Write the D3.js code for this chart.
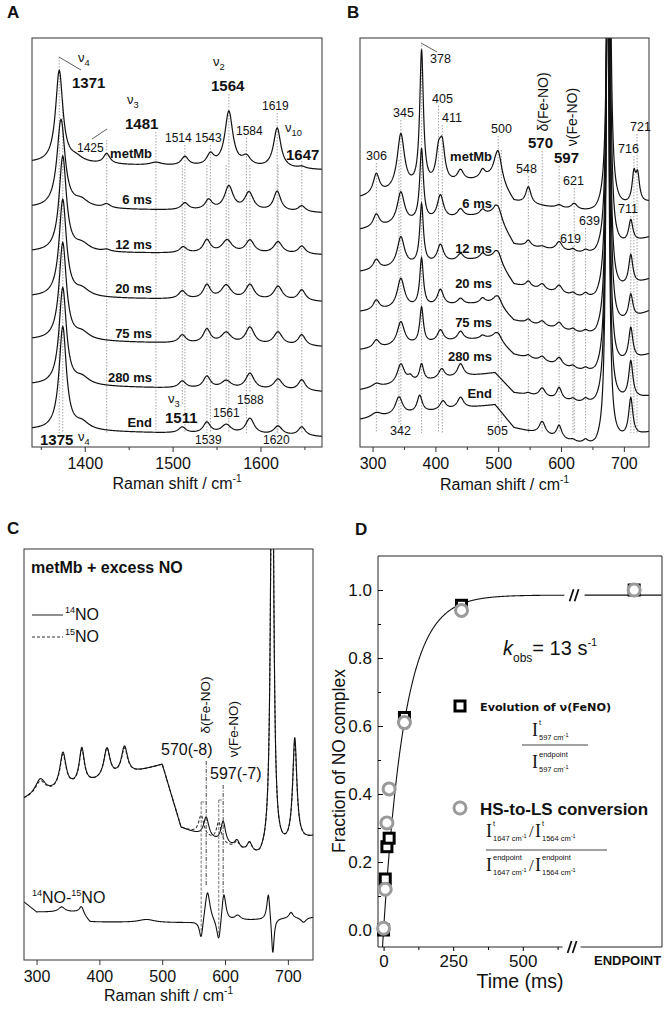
<!DOCTYPE html>
<html><head><meta charset="utf-8">
<script src="https://cdn.jsdelivr.net/npm/d3@7"></script>
<style>body{margin:0;background:#fff}svg{display:block;font-family:"Liberation Sans",Arial,Helvetica,sans-serif}</style>
</head><body><svg id="c" width="669" height="1012"></svg>
<script>
// ================= DATA =================
const traceNames = ["metMb", "6 ms", "12 ms", "20 ms", "75 ms", "280 ms", "End"];

// Panel A (1340-1670 cm-1): baseline intensity at left/right edge, bands [centre, height, half-width]
const aRange = [1340, 1670];
const aBaseLeft  = [284, 239, 195, 150, 107, 62, 17];
const aBaseRight = [277, 234, 192, 145, 100, 55, 10];
const aBands = [
  [[1371,92,5],[1390,5,10],[1425,10,4.5],[1481,3,8],[1514,9,5],[1543,11,5],[1564,55,5.5],[1584,9,6],[1619,40,5],[1647,2,5]],
  [[1373,88,5.5],[1396,7,10],[1425,4,5],[1514,7,5],[1541,10,5],[1564,24,6],[1587,18,6],[1619,20,5],[1647,6,5]],
  [[1375,95,5],[1397,7,10],[1425,2,5],[1512,6,5],[1539,13,5],[1562,13,7],[1588,13,6],[1620,12,6],[1647,8,5]],
  [[1375,97,5],[1397,7,10],[1511,8,5],[1539,14,5],[1561,14,7],[1588,15,6],[1620,14,6],[1647,11,5]],
  [[1375,97,5],[1397,7,10],[1511,8,5],[1539,14,5],[1561,11,7],[1588,17,6],[1620,13,6],[1647,11,5]],
  [[1375,97,5],[1397,7,10],[1511,7,5],[1539,12,5],[1561,8,7],[1588,16,6],[1620,11,6],[1647,11,5]],
  [[1375,103,5],[1397,7,10],[1511,6,5],[1539,11,5],[1561,9,7],[1588,16,6],[1620,9,6],[1647,9,5]]
];
const aTicks = [1400, 1500, 1600];
const aMinor = [1350, 1450, 1550, 1650];
const aMarksTop = [1371, 1425, 1481, 1514, 1543, 1564, 1584, 1619, 1647];
const aMarksEnd = [1375, 1511, 1539, 1561, 1588, 1620];

// Panel B (280-740 cm-1): background anchors and bands
const bRange = [280, 740];
const bBgX = [280, 495, 525, 655, 740];
const bBgY = [
  [249, 269, 244, 233, 244],
  [217, 233, 202, 190, 209],
  [175, 189, 162, 145, 167],
  [135, 144, 126, 109, 135],
  [97, 109, 92, 71, 92],
  [57, 74, 54, 40, 50],
  [27, 42, 19, -2, 14]
];
const bBands = [
  [[306,20,6],[345,56,7],[378,135,3.5],[405,28,5],[411,34,5],[440,11,6],[475,8,5],[500,30,7],[548,17,5],[597,3,6],[621,6,6],[676,500,2.8],[716,28,3.5],[722,26,3.5]],
  [[306,13,6],[345,32,7],[378,72,3.5],[408,24,6],[440,8,6],[475,5,5],[500,12,7],[548,6,5],[570,2,6],[597,9,6],[619,3,5],[639,3,5],[675.5,500,2.8],[711,22,4]],
  [[306,10,6],[345,30,7],[378,60,3.5],[408,18,6],[440,7,6],[475,5,5],[500,10,7],[548,6,5],[570,6,6],[597,8,6],[619,3,5],[639,4,5],[675,500,2.8],[711,30,4]],
  [[306,10,6],[345,30,7],[378,48,3.5],[408,16,6],[440,6,6],[475,5,5],[500,9,7],[548,4,5],[570,5,6],[597,7,6],[619,3,5],[639,3,5],[675,500,2.8],[711,24,4]],
  [[306,8,6],[345,24,7],[378,36,3.5],[408,12,6],[440,9,6],[475,3,5],[500,7,7],[548,3,5],[570,5,6],[597,8,6],[619,3,5],[639,3,5],[674.5,500,2.8],[711,32,4]],
  [[306,4,8],[345,20,7],[360,5,5],[378,17,4],[410,10,6],[440,13,6],[548,2,5],[570,9,6],[597,12,5],[619,3,5],[639,4,5],[674,500,2.8],[711,37,4]],
  [[306,5,10],[342,18,7],[375,17,5],[412,9,6],[440,11,6],[570,13,6],[597,13,5],[619,2,5],[639,4,5],[674,500,2.8],[711,38,4]]
];
const bTicks = [300, 400, 500, 600, 700];
const bMinor = [350, 450, 550, 650];
const bMarksTop = [306, 345, 378, 405, 411, 500, 548, 570, 597, 621, 716, 721];
const bMarksLow = [342, 505, 619, 639, 711];

// Panel C: metMb + excess NO, 14NO / 15NO and difference
const cRange = [280, 740];
const cBgX = [280, 445, 500, 530, 655, 740];
const cBgY = [160, 185, 195, 132, 100, 122];
const c14Bands = [[306,16,10],[342,36,6],[372,36,5],[412,30,6],[440,28,6],[570,20,5],[597,22,4.5],[619,8,5],[639,10,5],[675,500,2.8],[711,105,4]];
const c15Bands = [[306,14,10],[342,34,6],[372,34,5],[412,30,6],[440,26,6],[562,20,5],[590,20,4.5],[619,7,5],[639,10,5],[675,500,2.8],[711,100,4]];
const cDiffBgX = [280, 300, 370, 385, 555, 740];
const cDiffBgY = [58, 48, 48, 38, 37, 43];
const cDiffBands = [[340,5,6],[372,6,4],[475,3,15],[562,-20,3.5],[572,32,5],[590,-24,4],[598,30,4],[620,5,6],[669,28,3],[676,-38,2.5],[705,6,4],[725,-5,5]];
const cTicks = [300, 400, 500, 600, 700];

// Panel D: kinetics
const dTimes = [0, 6, 12, 20, 75, 280];
const dFeNO = [0.0, 0.15, 0.245, 0.27, 0.625, 0.955];
const dHSLS = [0.005, 0.12, 0.315, 0.415, 0.61, 0.94];
const dFeNOEnd = 1.0;
const dHSLSEnd = 1.0;
const kObs = 13;          // s^-1
const fitAmp = 0.985;
const dYTicks = [0.0, 0.2, 0.4, 0.6, 0.8, 1.0];
const dYMinor = [0.1, 0.3, 0.5, 0.7, 0.9];
const dXTicks = [0, 250, 500];
const dXMinor = [125, 375, 625];

// ================= LAYOUT =================
const L = {
  A: {l: 32, r: 322, t: 38, b: 447},
  B: {l: 360, r: 649, t: 38, b: 447},
  C: {l: 24, r: 313, t: 549, b: 960},
  D: {l: 378, r: 662, t: 556, b: 947}
};
const INK = "#111";
const SANS = '"Liberation Sans",Arial,Helvetica,sans-serif';
const svg = d3.select("#c");
const defs = svg.append("defs");

function bandSum(bands, v) { return d3.sum(bands, b => b[1] / (1 + ((v - b[0]) / b[2]) ** 2)); }
function spectrum(bands, bgX, bgY, range, step) {
  const bg = d3.scaleLinear().domain(bgX).range(bgY);
  return d3.range(range[0], range[1] + step / 2, step).map(v => [v, bg(v) + bandSum(bands, v)]);
}
function txt(g, x, y, s, o = {}) {
  const t = g.append("text").attr("x", x).attr("y", y).text(s)
    .attr("font-size", o.size || 12).attr("font-weight", o.bold ? "bold" : "normal")
    .attr("text-anchor", o.anchor || "start").attr("fill", o.fill || INK)
    .style("font-family", o.family || SANS);
  if (o.style) t.attr("font-style", o.style);
  return t;
}
function nu(g, x, y, sub, size = 13) {
  const t = g.append("text").attr("x", x).attr("y", y).attr("font-size", size).attr("fill", INK);
  t.append("tspan").text("\u03BD");
  t.append("tspan").attr("dy", 4).attr("font-size", size * 0.72).text(sub);
}
function rot(g, x, y, s, size) {
  g.append("text").attr("transform", `translate(${x},${y}) rotate(-90)`).attr("text-anchor", "middle")
    .attr("font-size", size).attr("fill", INK).text(s);
}
function clip(id, box) {
  defs.append("clipPath").attr("id", id).append("rect")
    .attr("x", box.l).attr("y", box.t).attr("width", box.r - box.l).attr("height", box.b - box.t);
}
function frame(g, box) {
  g.append("rect").attr("x", box.l).attr("y", box.t).attr("width", box.r - box.l).attr("height", box.b - box.t)
    .attr("fill", "none").attr("stroke", "#333").attr("stroke-width", 1);
}
function bottomAxis(g, x, y0, majors, minors, size, pad) {
  g.append("g").attr("transform", `translate(0,${y0})`)
    .call(d3.axisBottom(x).tickValues(majors).tickSize(5).tickPadding(pad).tickFormat(d3.format("d")))
    .call(a => a.select(".domain").remove())
    .call(a => a.selectAll("line").attr("stroke", "#333"))
    .call(a => a.selectAll("text").attr("font-size", size).style("font-family", SANS).attr("fill", INK));
  if (minors) g.append("g").attr("transform", `translate(0,${y0})`)
    .call(d3.axisBottom(x).tickValues(minors).tickSize(3).tickFormat(""))
    .call(a => a.select(".domain").remove())
    .call(a => a.selectAll("line").attr("stroke", "#333"));
}
function ramanTitle(g, cx, y) {
  const t = g.append("text").attr("x", cx).attr("y", y).attr("text-anchor", "middle").attr("font-size", 16).attr("fill", INK);
  t.append("tspan").text("Raman shift / cm");
  t.append("tspan").attr("dy", -7).attr("font-size", 10).text("-1");
}
function dotted(g, x, y1, y2) {
  g.append("line").attr("x1", x).attr("x2", x).attr("y1", y1).attr("y2", y2)
    .attr("stroke", "#999").attr("stroke-width", 0.9).attr("stroke-dasharray", "1.5,1.5");
}
function seg(g, x1, y1, x2, y2, w = 0.8, col = "#333", dash = null) {
  const l = g.append("line").attr("x1", x1).attr("y1", y1).attr("x2", x2).attr("y2", y2)
    .attr("stroke", col).attr("stroke-width", w);
  if (dash) l.attr("stroke-dasharray", dash);
  return l;
}

// ================= PANEL A =================
{
  const B = L.A, g = svg.append("g");
  clip("clipA", B);
  const x = d3.scaleLinear().domain(aRange).range([B.l, B.r]);
  const y = d3.scaleLinear().domain([0, 409]).range([B.b, B.t]);
  txt(g, 7, 18, "A", {size: 17, bold: true});
  const marksTopStart = [57, 140, 132, 145, 145, 94, 138, 113, 161];
  aMarksTop.forEach((v, i) => dotted(g, x(v), marksTopStart[i], 433));
  const marksEnd = [[100, 432], [165, 405], [165, 433], [165, 406], [165, 392], [165, 433]];
  aMarksEnd.forEach((v, i) => dotted(g, x(v), marksEnd[i][0], marksEnd[i][1]));
  const line = d3.line().x(d => x(d[0])).y(d => y(d[1]));
  const tg = g.append("g").attr("clip-path", "url(#clipA)");
  aBands.forEach((bands, i) => {
    const pts = spectrum(bands, aRange, [aBaseLeft[i], aBaseRight[i]], aRange, 0.5);
    tg.append("path").attr("d", line(pts)).attr("fill", "none").attr("stroke", INK).attr("stroke-width", 1.2);
  });
  frame(g, B);
  bottomAxis(g, x, B.b, aTicks, aMinor, 16, 6);
  ramanTitle(g, (B.l + B.r) / 2, 489);
  seg(g, 59, 57, 81, 70);
  seg(g, 92, 139, 107, 129);
  nu(g, 78, 62, "4"); txt(g, 72, 88, "1371", {size: 15, bold: true});
  nu(g, 213, 66, "2"); txt(g, 211, 91, "1564", {size: 15, bold: true});
  nu(g, 127, 104, "3"); txt(g, 125, 129, "1481", {size: 15, bold: true});
  txt(g, 77, 152, "1425", {size: 12});
  txt(g, 165, 142, "1514", {size: 12});
  txt(g, 195, 142, "1543", {size: 12});
  txt(g, 236, 135, "1584", {size: 12});
  txt(g, 262, 110, "1619", {size: 12});
  nu(g, 285, 132, "10");
  txt(g, 286, 160, "1647", {size: 15, bold: true});
  const tY = [158, 204, 249, 293, 338, 382, 427];
  traceNames.forEach((n, i) => txt(g, 152, tY[i], n, {size: 13, bold: true, anchor: "end"}));
  nu(g, 168, 403, "3"); txt(g, 165, 423, "1511", {size: 15, bold: true});
  txt(g, 213, 417, "1561", {size: 12});
  txt(g, 237, 404, "1588", {size: 12});
  txt(g, 195, 444, "1539", {size: 12});
  txt(g, 263, 444, "1620", {size: 12});
  txt(g, 40, 445, "1375", {size: 15, bold: true});
  nu(g, 78, 441, "4");
}

// ================= PANEL B =================
{
  const B = L.B, g = svg.append("g");
  clip("clipB", B);
  const x = d3.scaleLinear().domain(bRange).range([B.l, B.r]);
  const y = d3.scaleLinear().domain([0, 409]).range([B.b, B.t]);
  txt(g, 347, 18, "B", {size: 17, bold: true});
  const topStart = [163, 120, 45, 106, 125, 136, 176, 151, 166, 188, 156, 134];
  bMarksTop.forEach((v, i) => dotted(g, x(v), topStart[i], 433));
  const lowSpan = [[160, 423], [150, 423], [246, 433], [228, 433], [216, 433]];
  bMarksLow.forEach((v, i) => dotted(g, x(v), lowSpan[i][0], lowSpan[i][1]));
  const line = d3.line().x(d => x(d[0])).y(d => y(d[1]));
  const tg = g.append("g").attr("clip-path", "url(#clipB)");
  bBands.forEach((bands, i) => {
    const pts = spectrum(bands, bBgX, bBgY[i], bRange, 0.5);
    tg.append("path").attr("d", line(pts)).attr("fill", "none").attr("stroke", INK).attr("stroke-width", 1.2);
  });
  frame(g, B);
  bottomAxis(g, x, B.b, bTicks, bMinor, 16, 6);
  ramanTitle(g, (B.l + B.r) / 2, 490);
  seg(g, 421, 43, 437, 52);
  const s = 12.5;
  txt(g, 366, 160, "306", {size: s});
  txt(g, 393, 117, "345", {size: s});
  txt(g, 430, 63, "378", {size: s});
  txt(g, 432, 103, "405", {size: s});
  txt(g, 442, 122, "411", {size: s});
  txt(g, 491, 133, "500", {size: s});
  txt(g, 516, 173, "548", {size: s});
  txt(g, 563, 185, "621", {size: s});
  txt(g, 630, 131, "721", {size: s});
  txt(g, 618, 153, "716", {size: s});
  txt(g, 618, 213, "711", {size: s});
  txt(g, 579, 225, "639", {size: s});
  txt(g, 560, 243, "619", {size: s});
  txt(g, 390, 435, "342", {size: s});
  txt(g, 487, 435, "505", {size: s});
  txt(g, 528, 148, "570", {size: 15, bold: true});
  txt(g, 554, 163, "597", {size: 15, bold: true});
  rot(g, 548, 102, "\u03B4(Fe-NO)", 14);
  rot(g, 577, 117, "\u03BD(Fe-NO)", 14);
  const tY = [161, 208, 253, 288, 327, 361, 398];
  traceNames.forEach((n, i) => txt(g, 492, tY[i], n, {size: 13, bold: true, anchor: "end"}));
}

// ================= PANEL C =================
{
  const B = L.C, g = svg.append("g");
  clip("clipC", B);
  const x = d3.scaleLinear().domain(cRange).range([B.l, B.r]);
  const y = d3.scaleLinear().domain([0, 411]).range([B.b, B.t]);
  txt(g, 7, 534, "C", {size: 17, bold: true});
  const line = d3.line().x(d => x(d[0])).y(d => y(d[1]));
  const tg = g.append("g").attr("clip-path", "url(#clipC)");
  const dd = "4,1.5,1,1.5";
  seg(g, x(570), y(199), x(570), y(75), 0.9, "#333", dd);
  seg(g, x(597), y(175), x(597), y(65), 0.9, "#333", dd);
  seg(g, x(562), y(158), x(562), y(27), 0.9, "#666", "3,1.5");
  seg(g, x(562), y(158), x(570), y(158), 0.9, "#666", "3,1.5");
  seg(g, x(590), y(160), x(590), y(23), 0.9, "#666", "3,1.5");
  seg(g, x(590), y(160), x(597), y(160), 0.9, "#666", "3,1.5");
  tg.append("path").attr("d", line(spectrum(c15Bands, cBgX, cBgY, cRange, 0.5)))
    .attr("fill", "none").attr("stroke", "#333").attr("stroke-width", 1.1).attr("stroke-dasharray", "3,2");
  tg.append("path").attr("d", line(spectrum(c14Bands, cBgX, cBgY, cRange, 0.5)))
    .attr("fill", "none").attr("stroke", INK).attr("stroke-width", 1.1);
  tg.append("path").attr("d", line(spectrum(cDiffBands, cDiffBgX, cDiffBgY, cRange, 0.5)))
    .attr("fill", "none").attr("stroke", INK).attr("stroke-width", 1.1);
  frame(g, B);
  bottomAxis(g, x, B.b, cTicks, null, 16, 6);
  ramanTitle(g, (B.l + B.r) / 2, 1001);
  txt(g, 31, 573, "metMb + excess NO", {size: 16, bold: true});
  seg(g, 32, 615, 63, 615, 1.1, "#333");
  seg(g, 32, 637, 63, 637, 1.1, "#333", "3,2");
  [["14", 620], ["15", 642]].forEach(([iso, yy]) => {
    const t = g.append("text").attr("x", 65).attr("y", yy).attr("font-size", 16).attr("fill", INK);
    t.append("tspan").attr("font-size", 9).attr("dy", -7).text(iso);
    t.append("tspan").attr("dy", 7).text("NO");
  });
  rot(g, 210, 705, "\u03B4(Fe-NO)", 13.5);
  txt(g, 161, 755, "570(-8)", {size: 16});
  rot(g, 238, 729, "\u03BD(Fe-NO)", 13.5);
  txt(g, 210, 779, "597(-7)", {size: 16});
  const d = g.append("text").attr("x", 32).attr("y", 903).attr("font-size", 16).attr("fill", INK);
  d.append("tspan").attr("font-size", 9).attr("dy", -7).text("14");
  d.append("tspan").attr("dy", 7).text("NO-");
  d.append("tspan").attr("font-size", 9).attr("dy", -7).text("15");
  d.append("tspan").attr("dy", 7).text("NO");
}

// ================= PANEL D =================
{
  const B = L.D, g = svg.append("g");
  clip("clipD", B);
  const x = d3.scaleLinear().domain([-20, 1000]).range([B.l, B.r]);
  const y = d3.scaleLinear().domain([-0.05, 1.1]).range([B.b, B.t]);
  const endpointPos = 900;   // plotting position of the endpoint category
  const gapT = [650, 722];   // axis break
  txt(g, 355, 535, "D", {size: 17, bold: true});
  seg(g, B.l, B.t, B.r, B.t, 1, "#222");
  seg(g, B.l, B.t, B.l, B.b, 1, "#222");
  seg(g, B.r, B.t, B.r, B.b, 1, "#222");
  seg(g, B.l, B.b, x(gapT[0]) - 2, B.b, 1, "#222");
  seg(g, x(gapT[1]) - 4, B.b, B.r, B.b, 1, "#222");
  function brk(cx, cy) {
    [-3, 2].forEach(dx => seg(g, cx + dx - 2, cy + 6, cx + dx + 2, cy - 6, 1.8, INK));
  }
  brk((x(gapT[0]) + x(gapT[1])) / 2 - 2, B.b);
  g.append("g").attr("transform", `translate(${B.l},0)`)
    .call(d3.axisLeft(y).tickValues(dYTicks).tickSize(-5).tickPadding(6).tickFormat(d3.format(".1f")))
    .call(a => a.select(".domain").remove())
    .call(a => a.selectAll("text").attr("font-size", 17).style("font-family", SANS).attr("fill", INK));
  g.append("g").attr("transform", `translate(${B.l},0)`)
    .call(d3.axisLeft(y).tickValues(dYMinor).tickSize(-3).tickFormat(""))
    .call(a => a.select(".domain").remove());
  g.append("g").attr("transform", `translate(0,${B.b})`)
    .call(d3.axisBottom(x).tickValues(dXTicks).tickSize(4).tickPadding(4).tickFormat(d3.format("d")))
    .call(a => a.select(".domain").remove())
    .call(a => a.selectAll("text").attr("font-size", 17).style("font-family", SANS).attr("fill", INK));
  g.append("g").attr("transform", `translate(0,${B.b})`)
    .call(d3.axisBottom(x).tickValues(dXMinor).tickSize(3).tickFormat(""))
    .call(a => a.select(".domain").remove());
  txt(g, x(endpointPos) + 27, 965, "ENDPOINT", {size: 13, bold: true, anchor: "end"});
  txt(g, (B.l + B.r) / 2, 988, "Time (ms)", {size: 19.5, anchor: "middle"});
  rot(g, 345, 761, "Fraction of NO complex", 17.5);
  const fit = t => fitAmp * (1 - Math.exp(-kObs * t / 1000));
  const fl = d3.line().x(t => x(t)).y(t => y(fit(t)));
  const cg = g.append("g").attr("clip-path", "url(#clipD)");
  cg.append("path").attr("d", fl(d3.range(-4, gapT[0], 1))).attr("fill", "none").attr("stroke", INK).attr("stroke-width", 1.1);
  cg.append("path").attr("d", fl(d3.range(gapT[1], 1001, 4))).attr("fill", "none").attr("stroke", INK).attr("stroke-width", 1.1);
  brk((x(gapT[0]) + x(gapT[1])) / 2, y(fit(gapT[0])));
  const sq = dTimes.map((t, i) => [x(t), y(dFeNO[i])]).concat([[x(endpointPos), y(dFeNOEnd)]]);
  const ci = dTimes.map((t, i) => [x(t), y(dHSLS[i])]).concat([[x(endpointPos), y(dHSLSEnd)]]);
  g.selectAll(".sq").data(sq).join("rect").attr("x", d => d[0] - 5).attr("y", d => d[1] - 5)
    .attr("width", 10).attr("height", 10).attr("fill", "#fff").attr("stroke", "#000").attr("stroke-width", 3);
  g.selectAll(".ci").data(ci).join("circle").attr("cx", d => d[0]).attr("cy", d => d[1]).attr("r", 6)
    .attr("fill", "#fff").attr("stroke", "#9a9a9a").attr("stroke-width", 3);
  const k = g.append("text").attr("x", 503).attr("y", 655).attr("font-size", 20).attr("fill", INK);
  k.append("tspan").attr("font-style", "italic").text("k");
  k.append("tspan").attr("font-size", 12).attr("dy", 7).text("obs");
  k.append("tspan").attr("dy", -7).text("= " + kObs + " s");
  k.append("tspan").attr("font-size", 11).attr("dy", -9).text("-1");
  g.append("rect").attr("x", 455).attr("y", 701).attr("width", 10).attr("height", 10)
    .attr("fill", "#fff").attr("stroke", "#000").attr("stroke-width", 3);
  txt(g, 480, 711, "Evolution of \u03BD(FeNO)", {size: 11.2, bold: true, family: '"DejaVu Sans",Verdana,sans-serif'});
  g.append("circle").attr("cx", 460).attr("cy", 808).attr("r", 6).attr("fill", "#fff").attr("stroke", "#9a9a9a").attr("stroke-width", 3);
  txt(g, 480, 815, "HS-to-LS conversion", {size: 17, bold: true});
  const SERIF = '"Liberation Serif","DejaVu Serif","Times New Roman",serif';
  function Iterm(x0, yb, sup, sub) {
    txt(g, x0, yb, "I", {size: 18, family: SERIF});
    txt(g, x0 + 7, yb - 11, sup, {size: 7.5});
    const t = g.append("text").attr("x", x0 + 7).attr("y", yb + 4).attr("font-size", 7.5).attr("fill", INK);
    t.append("tspan").text(sub + " cm");
    t.append("tspan").attr("dy", -3).attr("font-size", 5.5).text("-1");
  }
  Iterm(532, 736, "t", "597");
  seg(g, 522, 745, 588, 745, 1, "#444");
  Iterm(532, 768, "endpoint", "597");
  Iterm(486, 837, "t", "1647");
  txt(g, 529, 837, "/", {size: 17, family: SERIF});
  Iterm(535, 837, "t", "1564");
  seg(g, 486, 850, 607, 850, 1, "#444");
  Iterm(486, 871, "endpoint", "1647");
  txt(g, 529, 871, "/", {size: 17, family: SERIF});
  Iterm(535, 871, "endpoint", "1564");
}
</script></body></html>
